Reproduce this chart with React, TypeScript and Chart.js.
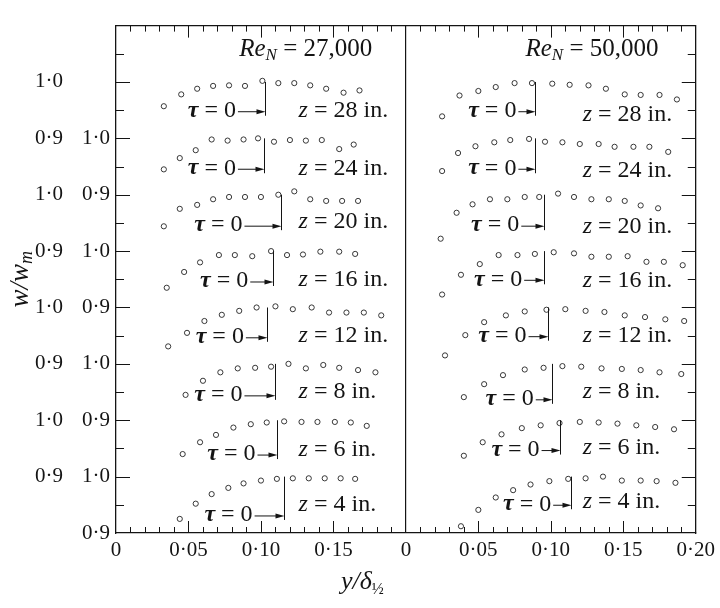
import React, { useEffect, useRef } from 'react';
import { Chart, registerables } from 'chart.js';

Chart.register(...registerables);

// ---------------- data ----------------
// stations z (in.), stacked from the bottom of the frame to the top
const zStations = [4, 6, 8, 12, 16, 20, 24, 28];
const reynolds = ['27,000', '50,000'];

// Re_N = 27,000 : y/δ½ and w/w_m
const a4y = [0.044, 0.055, 0.066, 0.0775, 0.088, 0.100, 0.111, 0.122, 0.133, 0.144, 0.155, 0.165];
const a4w = [0.925, 0.952, 0.969, 0.980, 0.988, 0.993, 0.996, 0.997, 0.997, 0.997, 0.997, 0.996];
const a6y = [0.046, 0.058, 0.069, 0.081, 0.093, 0.104, 0.116, 0.128, 0.139, 0.151, 0.162, 0.173];
const a6w = [0.940, 0.961, 0.974, 0.987, 0.993, 0.996, 0.998, 0.997, 0.997, 0.997, 0.996, 0.990];
const a8y = [0.048, 0.060, 0.072, 0.084, 0.096, 0.107, 0.119, 0.131, 0.143, 0.154, 0.167, 0.179];
const a8w = [0.945, 0.970, 0.985, 0.992, 0.993, 0.995, 1.000, 0.992, 0.998, 0.993, 0.989, 0.985];
const a12y = [0.036, 0.049, 0.061, 0.073, 0.085, 0.097, 0.110, 0.122, 0.135, 0.147, 0.159, 0.171, 0.183];
const a12w = [0.931, 0.955, 0.976, 0.987, 0.994, 1.000, 1.002, 0.997, 1.000, 0.991, 0.991, 0.991, 0.986];
const a16y = [0.035, 0.047, 0.058, 0.071, 0.082, 0.094, 0.107, 0.118, 0.129, 0.141, 0.154, 0.165];
const a16w = [0.935, 0.963, 0.980, 0.993, 0.993, 0.991, 1.000, 0.993, 0.994, 0.999, 0.999, 0.995];
const a20y = [0.033, 0.044, 0.056, 0.067, 0.078, 0.089, 0.100, 0.112, 0.123, 0.134, 0.145, 0.156, 0.167];
const a20w = [0.944, 0.975, 0.982, 0.992, 0.996, 0.996, 0.996, 1.000, 1.006, 0.992, 0.989, 0.989, 0.989];
const a24y = [0.033, 0.044, 0.055, 0.066, 0.077, 0.088, 0.098, 0.109, 0.120, 0.131, 0.142, 0.154, 0.164];
const a24w = [0.945, 0.965, 0.979, 0.998, 0.996, 0.998, 1.000, 0.994, 0.997, 0.996, 0.997, 0.981, 0.989];
const a28y = [0.033, 0.045, 0.056, 0.067, 0.078, 0.089, 0.101, 0.112, 0.123, 0.134, 0.145, 0.157, 0.168];
const a28w = [0.957, 0.978, 0.988, 0.993, 0.994, 0.993, 1.002, 0.998, 0.998, 0.994, 0.988, 0.981, 0.985];

// Re_N = 50,000 : y/δ½ and w/w_m
const b4y = [0.038, 0.050, 0.062, 0.074, 0.086, 0.099, 0.112, 0.124, 0.136, 0.149, 0.162, 0.173, 0.186];
const b4w = [0.912, 0.941, 0.963, 0.976, 0.986, 0.992, 0.996, 0.997, 1.000, 0.993, 0.993, 0.992, 0.989];
const b6y = [0.040, 0.053, 0.066, 0.080, 0.093, 0.106, 0.120, 0.133, 0.146, 0.159, 0.172, 0.185];
const b6w = [0.937, 0.961, 0.975, 0.986, 0.991, 0.995, 0.997, 0.996, 0.994, 0.991, 0.988, 0.984];
const b8y = [0.040, 0.054, 0.067, 0.082, 0.095, 0.108, 0.121, 0.135, 0.149, 0.162, 0.175, 0.190];
const b8w = [0.941, 0.964, 0.980, 0.990, 0.993, 0.996, 0.995, 0.992, 0.991, 0.989, 0.985, 0.982];
const b12y = [0.027, 0.041, 0.054, 0.069, 0.082, 0.097, 0.110, 0.124, 0.137, 0.151, 0.165, 0.179, 0.192];
const b12w = [0.915, 0.951, 0.974, 0.986, 0.993, 0.996, 0.997, 0.994, 0.992, 0.986, 0.983, 0.979, 0.976];
const b16y = [0.025, 0.038, 0.051, 0.064, 0.077, 0.089, 0.102, 0.116, 0.128, 0.140, 0.153, 0.166, 0.178, 0.191];
const b16w = [0.923, 0.958, 0.977, 0.993, 0.993, 0.995, 0.998, 0.996, 0.990, 0.990, 0.991, 0.981, 0.981, 0.975];
const b20y = [0.024, 0.035, 0.046, 0.058, 0.070, 0.082, 0.092, 0.105, 0.116, 0.128, 0.140, 0.151, 0.162, 0.174];
const b20w = [0.922, 0.968, 0.983, 0.992, 0.992, 0.996, 0.996, 1.002, 0.996, 0.992, 0.992, 0.989, 0.981, 0.976];
const b24y = [0.025, 0.036, 0.048, 0.061, 0.072, 0.085, 0.096, 0.108, 0.120, 0.133, 0.144, 0.157, 0.168, 0.181];
const b24w = [0.942, 0.974, 0.986, 0.993, 0.997, 0.999, 0.994, 0.993, 0.990, 0.990, 0.985, 0.985, 0.985, 0.976];
const b28y = [0.025, 0.037, 0.050, 0.062, 0.075, 0.087, 0.101, 0.113, 0.126, 0.138, 0.151, 0.162, 0.175, 0.187];
const b28w = [0.939, 0.976, 0.984, 0.991, 0.998, 0.998, 0.997, 0.995, 0.994, 0.988, 0.978, 0.977, 0.977, 0.969];

// τ = 0 position (y/δ½) for each station, and its label placement
const tauA = [0.116, 0.111, 0.110, 0.1045, 0.1085, 0.114, 0.102, 0.103];
const tauB = [0.114, 0.1065, 0.101, 0.098, 0.0955, 0.095, 0.0893, 0.0893];
const tauTextA = [0.061, 0.063, 0.054, 0.055, 0.058, 0.054, 0.0495, 0.0495];
const tauTextB = [0.067, 0.059, 0.055, 0.050, 0.047, 0.045, 0.043, 0.043];
const tauLevelA = [0.932, 0.940, 0.945, 0.948, 0.947, 0.946, 0.947, 0.949];
const tauLevelB = [0.951, 0.948, 0.938, 0.950, 0.950, 0.946, 0.947, 0.949];
const zLevelA = [0.951, 0.948, 0.950, 0.950, 0.950, 0.953, 0.947, 0.949];
const zLevelB = [0.956, 0.951, 0.950, 0.950, 0.947, 0.944, 0.943, 0.942];
const zTextX = [0.126, 0.122];
const titleX = [0.085, 0.0825];

const panelY = [
  [a4y, a6y, a8y, a12y, a16y, a20y, a24y, a28y],
  [b4y, b6y, b8y, b12y, b16y, b20y, b24y, b28y],
];
const panelW = [
  [a4w, a6w, a8w, a12w, a16w, a20w, a24w, a28w],
  [b4w, b6w, b8w, b12w, b16w, b20w, b24w, b28w],
];
const tauX = [tauA, tauB];
const tauTextX = [tauTextA, tauTextB];
const tauLevel = [tauLevelA, tauLevelB];
const zLevel = [zLevelA, zLevelB];

// layout of the two panels / stacked profiles on one shared axis
const PANEL_SPAN = 0.2;
const PROFILE_STEP = 0.1;
const W_BASE = 0.9;
const TITLE_LEVEL = 0.857;

const INK = '#141414';
const SERIF = "Liberation Serif, Times New Roman, Times, serif";

type Part = { t: string; f: string; dy?: number };

function drawRich(ctx: CanvasRenderingContext2D, parts: Part[], x: number, y: number, align: 'left' | 'center' = 'left') {
  let total = 0;
  const widths = parts.map((p) => {
    ctx.font = p.f;
    const w = ctx.measureText(p.t).width;
    total += w;
    return w;
  });
  let cx = align === 'center' ? x - total / 2 : x;
  parts.forEach((p, i) => {
    ctx.font = p.f;
    ctx.fillText(p.t, cx, y + (p.dy || 0));
    cx += widths[i];
  });
  return cx;
}

const fmtX = (v: number) => {
  const n = Math.round(v * 100);
  if (n === 0 || n === 20) return '0';
  const val = n === 40 ? 20 : n > 20 ? n - 20 : n;
  return '0·' + String(val).padStart(2, '0');
};

const inwardTicks = {
  id: 'inwardTicks',
  afterDatasetsDraw(chart: any) {
    const { ctx, chartArea: a, scales } = chart;
    const x = scales.x;
    const y = scales.y;
    ctx.save();
    ctx.strokeStyle = INK;
    ctx.lineWidth = 1;
    const line = (x1: number, y1: number, x2: number, y2: number) => {
      ctx.beginPath();
      ctx.moveTo(x1, y1);
      ctx.lineTo(x2, y2);
      ctx.stroke();
    };
    for (let n = 1; n < 40; n++) {
      if (n === 20) continue;
      const px = Math.round(x.getPixelForValue(n / 100)) + 0.5;
      const len = n % 5 === 0 ? 12 : 6;
      line(px, a.bottom, px, a.bottom - len);
      line(px, a.top, px, a.top + len);
    }
    for (let n = 1; n < 18; n++) {
      const py = Math.round(y.getPixelForValue(n * 0.05)) + 0.5;
      const len = n % 2 === 0 ? 14 : 8;
      line(a.left, py, a.left + len, py);
      line(a.right, py, a.right - len, py);
    }
    ctx.restore();
  },
};

const annotate = {
  id: 'annotate',
  afterDatasetsDraw(chart: any) {
    const { ctx, chartArea: area, scales } = chart;
    const x = scales.x;
    const y = scales.y;
    const px = (pi: number, xv: number) => x.getPixelForValue(xv + pi * PANEL_SPAN);
    const py = (k: number, w: number) => y.getPixelForValue(k * PROFILE_STEP + w - W_BASE);
    const F = (s: number, st = '') => `${st}${s}px ${SERIF}`;
    ctx.save();
    ctx.fillStyle = INK;
    ctx.strokeStyle = INK;
    ctx.textBaseline = 'middle';
    ctx.textAlign = 'left';
    for (let pi = 0; pi < 2; pi++) {
      zStations.forEach((z, k) => {
        const lx = Math.round(px(pi, tauX[pi][k])) + 0.5;
        const ty = py(k, tauLevel[pi][k]);
        const end = drawRich(ctx, [
          { t: 'τ', f: F(24, 'italic bold ') },
          { t: ' = 0', f: F(24) },
        ], px(pi, tauTextX[pi][k]), ty);
        ctx.lineWidth = 1;
        ctx.beginPath();
        ctx.moveTo(end + 2, ty + 1);
        ctx.lineTo(lx - 6, ty + 1);
        ctx.stroke();
        ctx.beginPath();
        ctx.moveTo(lx, ty + 1);
        ctx.lineTo(lx - 9, ty - 1.5);
        ctx.lineTo(lx - 9, ty + 3.5);
        ctx.closePath();
        ctx.fill();
        ctx.beginPath();
        ctx.moveTo(lx, py(k, 1.0));
        ctx.lineTo(lx, ty + 5);
        ctx.stroke();
        drawRich(ctx, [
          { t: 'z', f: F(24, 'italic ') },
          { t: ` = ${z} in.`, f: F(24) },
        ], px(pi, zTextX[pi]), py(k, zLevel[pi][k]));
      });
      drawRich(ctx, [
        { t: 'Re', f: F(25, 'italic ') },
        { t: 'N', f: F(17, 'italic '), dy: 6 },
        { t: ' = ' + reynolds[pi], f: F(25) },
      ], px(pi, titleX[pi]), y.getPixelForValue(TITLE_LEVEL));
    }
    // axis titles
    drawRich(ctx, [
      { t: 'y/δ', f: F(26, 'italic ') },
      { t: '½', f: F(16), dy: 8 },
    ], x.getPixelForValue(0.17), area.bottom + 49, 'center');
    ctx.translate(21, (area.top + area.bottom) / 2);
    ctx.rotate(-Math.PI / 2);
    drawRich(ctx, [
      { t: 'w/w', f: F(27, 'italic ') },
      { t: 'm', f: F(18, 'italic '), dy: 6 },
    ], 0, 0, 'center');
    ctx.restore();
  },
};

export default function App() {
  const ref = useRef<HTMLCanvasElement>(null);
  useEffect(() => {
    if (!ref.current) return;
    const datasets: any[] = [];
    panelY.forEach((profiles, pi) =>
      profiles.forEach((ys, k) => {
        datasets.push({
          label: `Re_N ${reynolds[pi]}, z = ${zStations[k]} in.`,
          data: ys.map((yv, i) => ({ x: yv + pi * PANEL_SPAN, y: k * PROFILE_STEP + panelW[pi][k][i] - W_BASE })),
          showLine: false,
          pointStyle: 'circle',
          pointRadius: 2.6,
          pointBorderWidth: 0.9,
          pointBorderColor: '#222',
          pointBackgroundColor: '#fff',
          xAxisID: 'x',
          yAxisID: 'y',
        });
      })
    );
    const tickFont = { family: SERIF, size: 21 };
    const chart = new Chart(ref.current, {
      type: 'scatter',
      data: { datasets },
      options: {
        animation: false,
        responsive: false,
        devicePixelRatio: 1,
        layout: { padding: { top: 4, right: 22, left: 0, bottom: 0 } },
        plugins: { legend: { display: false }, tooltip: { enabled: false } },
        scales: {
          x: {
            type: 'linear',
            position: 'bottom',
            min: 0,
            max: 0.4,
            ticks: { stepSize: 0.05, callback: (v: any) => fmtX(Number(v)), font: tickFont, color: INK, padding: 5, autoSkip: false, maxRotation: 0 },
            grid: {
              display: true,
              drawTicks: false,
              lineWidth: 1.2,
              color: (c: any) => (c.tick && Math.round(c.tick.value * 100) === 20 ? INK : 'rgba(0,0,0,0)'),
            },
            border: { display: true, color: INK, width: 1.3 },
            afterFit: (s: any) => { s.height = 75; },
          },
          xTop: {
            type: 'linear',
            position: 'top',
            min: 0,
            max: 0.4,
            ticks: { display: false },
            grid: { display: false, drawTicks: false },
            border: { display: true, color: INK, width: 1.3 },
            afterFit: (s: any) => { s.height = 0; },
          },
          y: {
            type: 'linear',
            position: 'left',
            weight: 0,
            min: 0,
            max: 0.9,
            ticks: {
              stepSize: 0.1,
              font: tickFont,
              color: INK,
              padding: 6,
              callback: (v: any) => {
                const n = Math.round(Number(v) * 10);
                if (n >= 8) return null;
                return n % 2 === 0 ? '0·9' : '1·0';
              },
            },
            grid: { display: false, drawTicks: false },
            border: { display: true, color: INK, width: 1.3 },
            afterFit: (s: any) => { s.width = 40; },
          },
          yOut: {
            type: 'linear',
            position: 'left',
            weight: 1,
            min: 0,
            max: 0.9,
            ticks: {
              stepSize: 0.1,
              font: tickFont,
              color: INK,
              padding: 13,
              callback: (v: any) => {
                const n = Math.round(Number(v) * 10);
                if (n === 0 || n >= 9) return null;
                return n % 2 === 1 ? '0·9' : '1·0';
              },
            },
            grid: { display: false, drawTicks: false },
            border: { display: false },
            afterFit: (s: any) => { s.width = 76; },
          },
          yRight: {
            type: 'linear',
            position: 'right',
            min: 0,
            max: 0.9,
            ticks: { display: false },
            grid: { display: false, drawTicks: false },
            border: { display: true, color: INK, width: 1.3 },
            afterFit: (s: any) => { s.width = 0; },
          },
        },
      },
      plugins: [inwardTicks, annotate],
    });
    return () => chart.destroy();
  }, []);
  return (
    <div style={{ position: 'fixed', left: 0, top: 0, width: 720, height: 608, background: '#fff' }}>
      <canvas ref={ref} width={720} height={608} style={{ display: 'block', width: 720, height: 608 }} />
    </div>
  );
}
